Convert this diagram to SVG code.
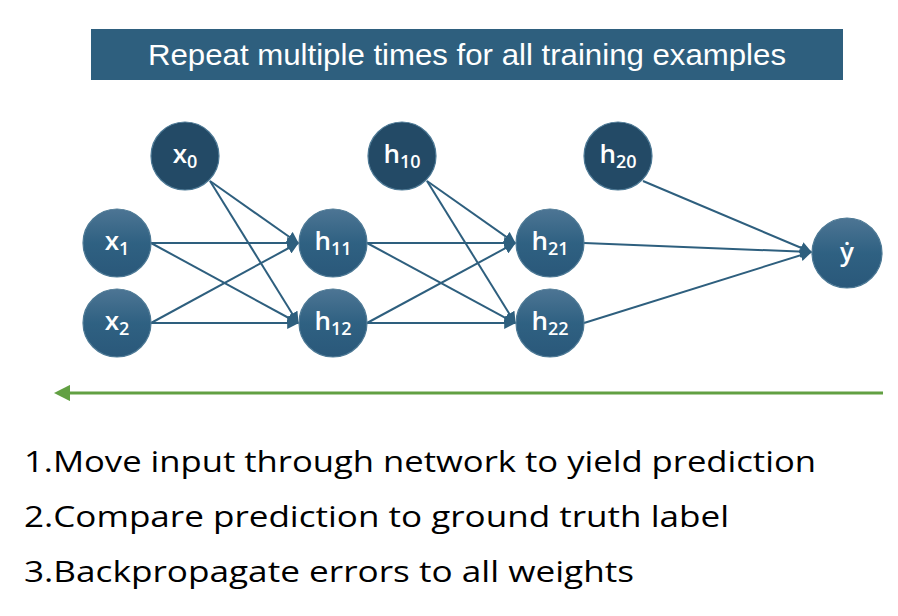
<svg xmlns="http://www.w3.org/2000/svg" width="898" height="616" viewBox="0 0 898 616">
<style>
.lbl{font-family:"Open Sans","Liberation Sans","DejaVu Sans",sans-serif;font-weight:600;fill:#fff;font-size:26px;text-anchor:middle}
.sub{font-size:18px}
.edge{stroke:#2e5f7e;stroke-width:2;fill:none}
.node{stroke:#4d7995;stroke-width:1.2}
.step{font-family:"Open Sans","Liberation Sans",sans-serif;font-size:30px;fill:#000}
</style>
<defs>
<linearGradient id="g" x1="0" y1="0" x2="0" y2="1">
<stop offset="0" stop-color="#4d7594"/>
<stop offset="0.5" stop-color="#2f6182"/>
<stop offset="1" stop-color="#2a587a"/>
</linearGradient>
<marker id="ah" viewBox="0 0 10 10" refX="9" refY="5" markerWidth="6" markerHeight="6" orient="auto" markerUnits="strokeWidth">
<path d="M0,0 L10,5 L0,10 z" fill="#2e5f7e"/>
</marker>
<marker id="gh" viewBox="0 0 10 10" refX="2" refY="5" markerWidth="5.5" markerHeight="5.5" orient="auto-start-reverse" markerUnits="strokeWidth">
<path d="M0,0 L10,5 L0,10 z" fill="#62a043"/>
</marker>
</defs>
<rect width="898" height="616" fill="#fff"/>
<g id="banner">
<rect x="91" y="29" width="752" height="51" fill="#2e5f7e"/>
<text x="467" y="65" font-family="'Liberation Sans Narrow','Liberation Sans',sans-serif" font-size="30" fill="#fff" text-anchor="middle" textLength="638" lengthAdjust="spacingAndGlyphs">Repeat multiple times for all training examples</text>
</g>
<g id="connectors">
<line class="edge" x1="151" y1="243" x2="298" y2="243" marker-end="url(#ah)"/>
<line class="edge" x1="151" y1="243" x2="298" y2="323" marker-end="url(#ah)"/>
<line class="edge" x1="151" y1="323" x2="298" y2="243" marker-end="url(#ah)"/>
<line class="edge" x1="151" y1="323" x2="298" y2="323" marker-end="url(#ah)"/>
<line class="edge" x1="210" y1="181" x2="298" y2="243" marker-end="url(#ah)"/>
<line class="edge" x1="210" y1="181" x2="298" y2="323" marker-end="url(#ah)"/>
<line class="edge" x1="367" y1="243" x2="515" y2="243" marker-end="url(#ah)"/>
<line class="edge" x1="367" y1="243" x2="515" y2="323" marker-end="url(#ah)"/>
<line class="edge" x1="367" y1="323" x2="515" y2="243" marker-end="url(#ah)"/>
<line class="edge" x1="367" y1="323" x2="515" y2="323" marker-end="url(#ah)"/>
<line class="edge" x1="427" y1="181" x2="515" y2="243" marker-end="url(#ah)"/>
<line class="edge" x1="427" y1="181" x2="515" y2="323" marker-end="url(#ah)"/>
<line class="edge" x1="584" y1="243" x2="811" y2="252" marker-end="url(#ah)"/>
<line class="edge" x1="584" y1="323" x2="811" y2="252" marker-end="url(#ah)"/>
<line class="edge" x1="643" y1="181" x2="811" y2="252" marker-end="url(#ah)"/>
<line x1="883" y1="393" x2="67" y2="393" stroke="#62a043" stroke-width="3" marker-end="url(#gh)"/>
</g>
<g id="x0"><circle class="node" cx="185" cy="156" r="34" fill="#234a66"/><text class="lbl" x="185" y="163">x<tspan class="sub" dy="5">0</tspan></text></g>
<g id="h10"><circle class="node" cx="402" cy="156" r="34" fill="#234a66"/><text class="lbl" x="402" y="163">h<tspan class="sub" dy="5">10</tspan></text></g>
<g id="h20"><circle class="node" cx="618" cy="156" r="34" fill="#234a66"/><text class="lbl" x="618" y="163">h<tspan class="sub" dy="5">20</tspan></text></g>
<g id="x1"><circle class="node" cx="117" cy="243" r="34" fill="url(#g)"/><text class="lbl" x="117" y="250">x<tspan class="sub" dy="5">1</tspan></text></g>
<g id="x2"><circle class="node" cx="117" cy="323" r="34" fill="url(#g)"/><text class="lbl" x="117" y="330">x<tspan class="sub" dy="5">2</tspan></text></g>
<g id="h11"><circle class="node" cx="333" cy="243" r="34" fill="url(#g)"/><text class="lbl" x="333" y="250">h<tspan class="sub" dy="5">11</tspan></text></g>
<g id="h12"><circle class="node" cx="333" cy="323" r="34" fill="url(#g)"/><text class="lbl" x="333" y="330">h<tspan class="sub" dy="5">12</tspan></text></g>
<g id="h21"><circle class="node" cx="550" cy="243" r="34" fill="url(#g)"/><text class="lbl" x="550" y="250">h<tspan class="sub" dy="5">21</tspan></text></g>
<g id="h22"><circle class="node" cx="550" cy="323" r="34" fill="url(#g)"/><text class="lbl" x="550" y="330">h<tspan class="sub" dy="5">22</tspan></text></g>
<g id="yhat"><circle class="node" cx="847" cy="253" r="35" fill="url(#g)"/><text class="lbl" x="847" y="261">ẏ</text></g>
<g id="steps">
<text class="step" x="24" y="472" textLength="792" lengthAdjust="spacingAndGlyphs">1.Move input through network to yield prediction</text>
<text class="step" x="24" y="527" textLength="705" lengthAdjust="spacingAndGlyphs">2.Compare prediction to ground truth label</text>
<text class="step" x="24" y="582" textLength="610" lengthAdjust="spacingAndGlyphs">3.Backpropagate errors to all weights</text>
</g>
</svg>
